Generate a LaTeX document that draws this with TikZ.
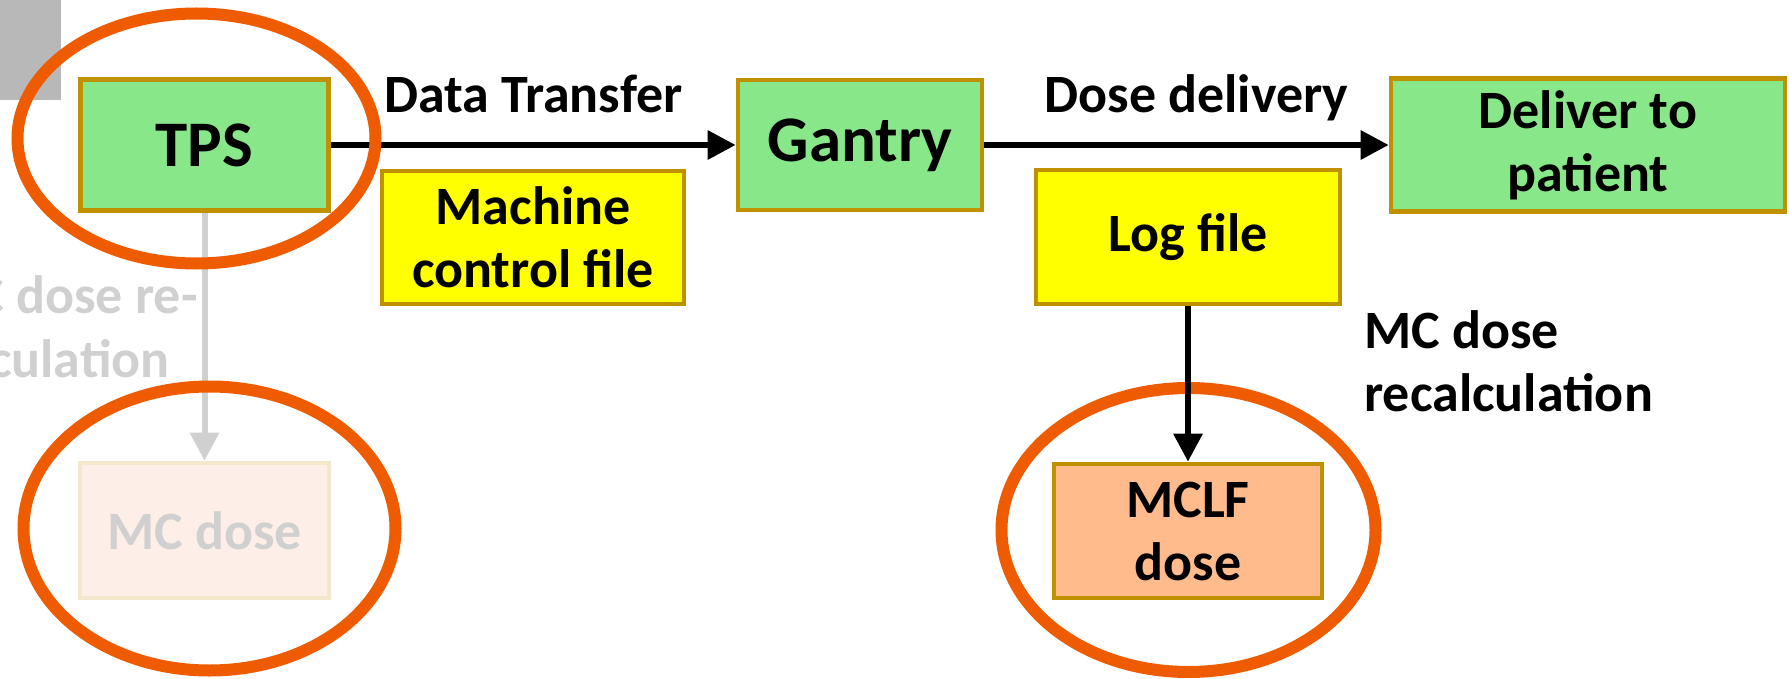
\documentclass[tikz,border=0pt]{standalone}
\usepackage{fontspec}
\setmainfont{Carlito}
\usetikzlibrary{arrows.meta,positioning}
\definecolor{boxgreen}{RGB}{136,231,136}
\definecolor{boxline}{RGB}{191,144,0}
\definecolor{logyellow}{RGB}{255,255,0}
\definecolor{lfdose}{RGB}{255,187,140}
\definecolor{fadefill}{RGB}{253,239,231}
\definecolor{fadeline}{RGB}{242,232,204}
\definecolor{fadetext}{RGB}{208,208,208}
\definecolor{ringorange}{RGB}{238,91,0}
\definecolor{cornergray}{RGB}{184,184,184}
\tikzstyle{box}       = [draw=boxline, line width=2.3pt, align=center, inner sep=0pt, font=\bfseries\fontsize{27}{31.5}\selectfont]
\tikzstyle{bigbox}    = [box, font=\bfseries\fontsize{32.5}{38}\selectfont]
\tikzstyle{lbl}       = [font=\bfseries\fontsize{27}{31.5}\selectfont, inner sep=0pt]
\tikzstyle{arrow}     = [line width=3pt, -{Triangle[length=14pt,width=14pt]}]
\tikzstyle{ring}      = [draw=ringorange, line width=6pt]

\begin{document}
\begin{tikzpicture}[x=50pt,y=50pt]
		\useasboundingbox (0,0) rectangle (17.89,-6.79);
		\clip (0,0) rectangle (17.89,-6.79);
		\fill[cornergray] (0,0) rectangle (0.61,-1.00);

		% main row
		\node[bigbox, fill=boxgreen, minimum width=124pt, minimum height=65.5pt] (tps) at (2.045,-1.45) {TPS};
		\node[bigbox, fill=boxgreen, minimum width=122pt, minimum height=65pt] (gantry) at (8.60,-1.45) {Gantry};
		\node[box, fill=boxgreen, minimum width=197pt, minimum height=66.5pt] (patient) at (15.88,-1.45) {Deliver to\\patient};

		% files
		\node[box, fill=logyellow, minimum width=151pt, minimum height=66.5pt] (mcf) at (5.33,-2.375) {Machine\\control file};
		\node[box, fill=logyellow, minimum width=152pt, minimum height=67pt] (logfile) at (11.88,-2.37) {Log file};

		% doses
		\node[box, fill=lfdose, minimum width=134pt, minimum height=67pt] (mclf) at (11.88,-5.31) {MCLF\\dose};
		\node[box, draw=fadeline, fill=fadefill, text=fadetext, minimum width=124.5pt, minimum height=67.5pt] (mcdose) at (2.045,-5.305) {MC dose};

		\draw[arrow] (tps) -- node[lbl, anchor=base, yshift=16pt] (transfer) {Data Transfer} (gantry);
		\draw[arrow] (gantry) -- node[lbl, anchor=base, yshift=16pt, xshift=5pt] (delivery) {Dose delivery} (patient);
		\draw[arrow, draw=fadetext] (tps) -- (mcdose);

		\node[lbl, text=fadetext, anchor=base east] (recalcA) at (1.98,-3.13) {MC dose re-};
		\node[lbl, text=fadetext, anchor=base east] (recalcB) at (1.70,-3.77) {calculation};
		\node[lbl, align=left, anchor=north west] (recalc) at (13.64,-3.10) {MC dose\\recalculation};

		% rings
		\draw[ring] (1.965,-1.385) ellipse [x radius=89.5pt, y radius=62.5pt];
		\draw[ring] (2.095,-5.285) ellipse [x radius=93pt, y radius=71pt];
		\draw[ring] (11.885,-5.30) ellipse [x radius=93.5pt, y radius=71pt];

		\draw[arrow] (logfile) -- (mclf);
	\end{tikzpicture}
\end{document}
